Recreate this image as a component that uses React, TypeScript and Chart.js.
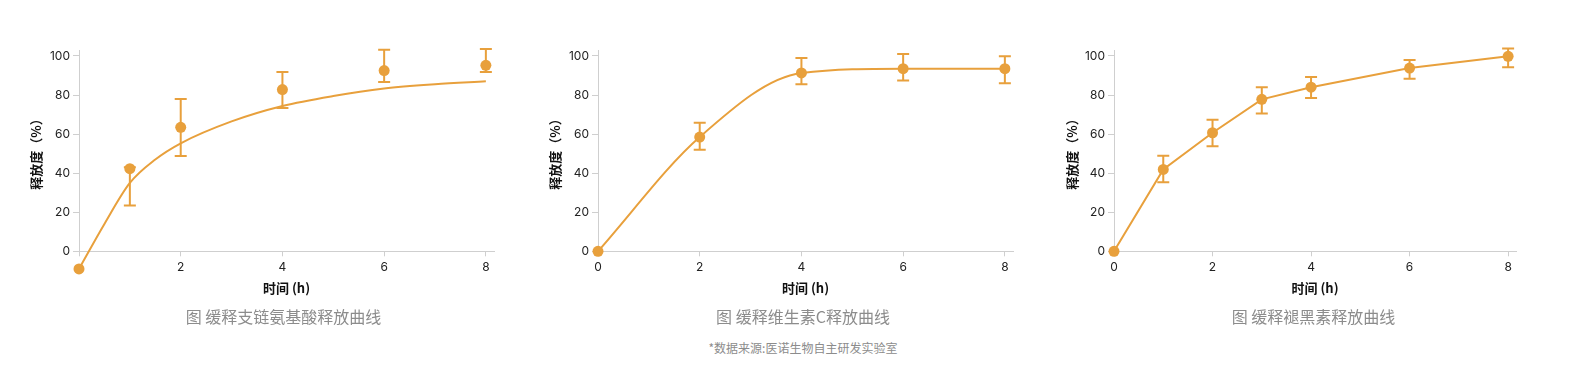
import React, { useEffect, useRef } from 'react';
import { Chart, registerables } from 'chart.js';

Chart.register(...registerables);

const ORANGE = '#E8A03C';
const AXIS_GREY = '#cfcfcf';
const FONT = "Inter, 'Noto Sans CJK SC', sans-serif";
const CJK = "'Noto Sans CJK SC', 'Noto Sans', sans-serif";

// ---- Chart 1: 缓释支链氨基酸
const bcaaTimes = [0, 1, 2, 4, 6, 8];
const bcaaRelease = [-9, 42.3, 63.5, 82.8, 92.5, 95.2];
const bcaaErrLow = [null, 23.5, 48.8, 73.4, 86.7, 91.8];
const bcaaErrHigh = [null, 43, 78, 91.8, 103.2, 103.6];
const bcaaFitTimes = [0, 0.5, 1, 1.5, 2, 3, 4, 5, 6, 7, 8];
const bcaaFitRelease = [-9, 14, 35, 47, 55.3, 66.5, 74.4, 79.5, 83.3, 85.5, 87];

// ---- Chart 2: 缓释维生素C
const vcTimes = [0, 2, 4, 6, 8];
const vcRelease = [0, 58.5, 91.3, 93.5, 93.5];
const vcErrLow = [null, 52, 85.5, 87.5, 86];
const vcErrHigh = [null, 65.8, 99, 101, 99.8];

// ---- Chart 3: 缓释褪黑素
const melTimes = [0, 1, 2, 3, 4, 6, 8];
const melRelease = [0, 41.9, 60.7, 77.8, 84, 93.8, 99.8];
const melErrLow = [null, 35.4, 53.8, 70.6, 78.5, 88.4, 94.2];
const melErrHigh = [null, 48.9, 67.4, 84, 89.2, 97.9, 103.8];

const xTickStep = 2;
const yTickStep = 20;
const xMax = 8.16;
const yMax = 102.7;

const yTitle = '释放度（%）';
const xTitle = '时间 (h)';
const captions = ['图 缓释支链氨基酸释放曲线', '图 缓释维生素C释放曲线', '图 缓释褪黑素释放曲线'];
const sourceNote = '*数据来源:医诺生物自主研发实验室';

const errorBarPlugin = {
  id: 'errorBars',
  beforeDatasetsDraw(chart: any, _args: any, opts: any) {
    const { ctx } = chart;
    const x = chart.scales.x;
    const y = chart.scales.y;
    const { times, low, high, color } = opts;
    if (!times) return;
    ctx.save();
    ctx.strokeStyle = color;
    ctx.lineWidth = 2;
    times.forEach((t: number, i: number) => {
      if (low[i] == null || high[i] == null) return;
      const px = x.getPixelForValue(t);
      const y1 = y.getPixelForValue(low[i]);
      const y2 = y.getPixelForValue(high[i]);
      ctx.beginPath();
      ctx.moveTo(px, y1);
      ctx.lineTo(px, y2);
      ctx.moveTo(px - 6, y1);
      ctx.lineTo(px + 6, y1);
      ctx.moveTo(px - 6, y2);
      ctx.lineTo(px + 6, y2);
      ctx.stroke();
    });
    ctx.restore();
  },
  afterDatasetsDraw(chart: any) {
    // draw points lying outside the chart area (Chart.js skips them)
    const { ctx, chartArea } = chart;
    chart.data.datasets.forEach((_d: any, di: number) => {
      const meta = chart.getDatasetMeta(di);
      meta.data.forEach((el: any) => {
        if (el.options && el.options.radius > 0.1 && el.y > chartArea.bottom + 1) {
          el.draw(ctx, undefined);
        }
      });
    });
  },
};

type Props = {
  canvasLeft: number;
  canvasWidth: number;
  plotLeft: number;
  plotRight: number;
  titleOffset: number;
  times: number[];
  values: number[];
  low: (number | null)[];
  high: (number | null)[];
  showLine: boolean;
  tension: number;
  fitTimes?: number[];
  fitValues?: number[];
  hideZeroX?: boolean;
};

const CANVAS_TOP = 30;
const CANVAS_HEIGHT = 290;
const PLOT_TOP = 50.7;
const PLOT_BOTTOM = 251.3;

function ReleaseChart(p: Props) {
  const ref = useRef<HTMLCanvasElement>(null);
  useEffect(() => {
    if (!ref.current) return;
    const yAxisWidth = p.plotLeft - p.canvasLeft;
    const padRight = p.canvasLeft + p.canvasWidth - p.plotRight;
    const xAxisHeight = CANVAS_TOP + CANVAS_HEIGHT - PLOT_BOTTOM;
    const titleLH = 13 * 1.2;
    const yTitlePadTop = p.plotLeft - p.titleOffset - p.canvasLeft - titleLH / 2;
    const xTitlePadBottom = CANVAS_TOP + CANVAS_HEIGHT - 288.3 - titleLH / 2;

    const datasets: any[] = [];
    if (p.fitTimes && p.fitValues) {
      datasets.push({
        data: p.fitTimes.map((t, i) => ({ x: t, y: p.fitValues![i] })),
        borderColor: ORANGE,
        borderWidth: 2,
        pointRadius: 0,
        cubicInterpolationMode: 'monotone',
        clip: false,
        order: 2,
      });
    }
    datasets.push({
      data: p.times.map((t, i) => ({ x: t, y: p.values[i] })),
      borderColor: ORANGE,
      backgroundColor: ORANGE,
      borderWidth: 2,
      showLine: p.showLine,
      tension: p.tension,
      cubicInterpolationMode: p.tension > 0 ? 'monotone' : 'default',
      pointRadius: 5.5,
      pointBorderWidth: 0,
      pointBackgroundColor: ORANGE,
      clip: false,
      order: 1,
    });

    const chart = new Chart(ref.current, {
      type: 'line',
      data: { datasets },
      plugins: [errorBarPlugin],
      options: {
        animation: false,
        responsive: false,
        devicePixelRatio: 1,
        layout: {
          padding: { left: 0, right: padRight, top: PLOT_TOP - CANVAS_TOP, bottom: 0 },
        },
        plugins: {
          legend: { display: false },
          tooltip: { enabled: false },
          errorBars: { times: p.times, low: p.low, high: p.high, color: ORANGE },
        } as any,
        scales: {
          x: {
            type: 'linear',
            min: 0,
            max: xMax,
            afterFit: (s: any) => {
              s.height = xAxisHeight;
            },
            ticks: {
              stepSize: xTickStep,
              includeBounds: false,
              color: '#222',
              padding: 4,
              font: { family: FONT, size: 12 },
              callback: (v: any) => (p.hideZeroX && v === 0 ? '' : String(v)),
            },
            grid: { drawOnChartArea: false, drawTicks: true, tickLength: 5, color: AXIS_GREY },
            border: { color: AXIS_GREY, width: 1 },
            title: {
              display: true,
              text: xTitle,
              color: '#111',
              font: { family: CJK, size: 13, weight: 'bold' },
              padding: { top: 0, bottom: xTitlePadBottom },
            },
          },
          y: {
            type: 'linear',
            min: 0,
            max: yMax,
            afterFit: (s: any) => {
              s.width = yAxisWidth;
            },
            ticks: {
              stepSize: yTickStep,
              includeBounds: false,
              color: '#222',
              padding: 3,
              font: { family: FONT, size: 12 },
            },
            grid: { drawOnChartArea: false, drawTicks: true, tickLength: 6, color: AXIS_GREY },
            border: { color: AXIS_GREY, width: 1 },
            title: {
              display: true,
              text: yTitle,
              color: '#111',
              font: { family: CJK, size: 13, weight: 'bold' },
              padding: { top: yTitlePadTop, bottom: 0 },
            },
          },
        },
      } as any,
    });
    return () => chart.destroy();
  }, []);

  return (
    <canvas
      ref={ref}
      width={p.canvasWidth}
      height={CANVAS_HEIGHT}
      style={{
        position: 'absolute',
        left: p.canvasLeft,
        top: CANVAS_TOP,
        width: p.canvasWidth,
        height: CANVAS_HEIGHT,
      }}
    />
  );
}

const captionStyle = (center: number): React.CSSProperties => ({
  position: 'absolute',
  left: center - 200,
  width: 400,
  top: 306,
  height: 20,
  lineHeight: '20px',
  textAlign: 'center',
  fontFamily: CJK,
  fontSize: 16,
  color: '#8c8c8c',
  whiteSpace: 'nowrap',
});

export default function App() {
  return (
    <div
      style={{
        position: 'absolute',
        left: 0,
        top: 0,
        width: 1581,
        height: 389,
        background: '#fff',
        overflow: 'hidden',
      }}
    >
      <ReleaseChart
        canvasLeft={0}
        canvasWidth={520}
        plotLeft={79}
        plotRight={494}
        titleOffset={43}
        times={bcaaTimes}
        values={bcaaRelease}
        low={bcaaErrLow}
        high={bcaaErrHigh}
        showLine={false}
        tension={0}
        fitTimes={bcaaFitTimes}
        fitValues={bcaaFitRelease}
        hideZeroX={true}
      />
      <ReleaseChart
        canvasLeft={520}
        canvasWidth={520}
        plotLeft={598}
        plotRight={1013}
        titleOffset={43}
        times={vcTimes}
        values={vcRelease}
        low={vcErrLow}
        high={vcErrHigh}
        showLine={true}
        tension={0.4}
      />
      <ReleaseChart
        canvasLeft={1040}
        canvasWidth={541}
        plotLeft={1114}
        plotRight={1516}
        titleOffset={42}
        times={melTimes}
        values={melRelease}
        low={melErrLow}
        high={melErrHigh}
        showLine={true}
        tension={0}
      />
      <div style={captionStyle(283.5)}>{captions[0]}</div>
      <div style={captionStyle(803)}>{captions[1]}</div>
      <div style={captionStyle(1313.5)}>{captions[2]}</div>
      <div
        style={{
          position: 'absolute',
          left: 603,
          width: 400,
          top: 340,
          height: 16,
          lineHeight: '16px',
          textAlign: 'center',
          fontFamily: CJK,
          fontSize: 12,
          color: '#8c8c8c',
          whiteSpace: 'nowrap',
        }}
      >
        {sourceNote}
      </div>
    </div>
  );
}
